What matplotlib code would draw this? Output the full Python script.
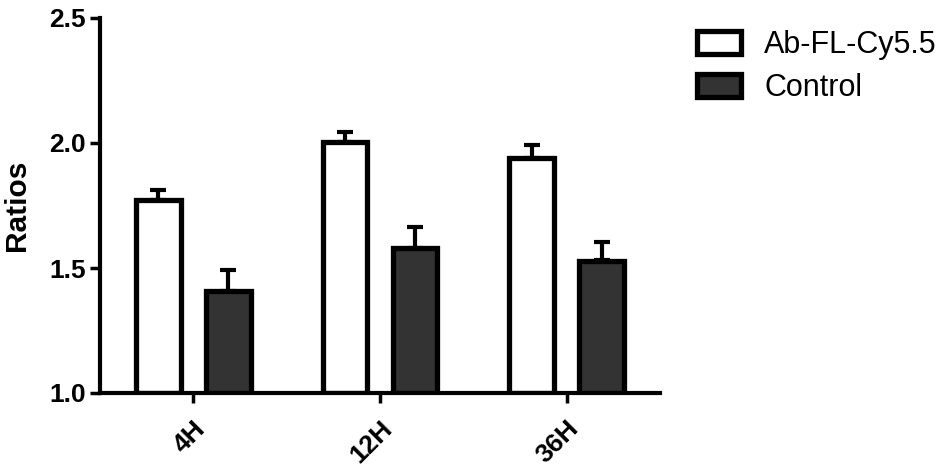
import numpy as np
import matplotlib
matplotlib.use('Agg')
import matplotlib.pyplot as plt

# Data (bar height and upper SEM end)
groups = ['4H', '12H', '36H']
ab_mean = [1.77, 2.005, 1.94]
ab_err = [0.04, 0.04, 0.05]
ctrl_mean = [1.41, 1.58, 1.53]
ctrl_err = [0.08, 0.085, 0.075]

plt.rcParams['font.family'] = ['Liberation Sans', 'DejaVu Sans']

fig = plt.figure(figsize=(9.45, 4.73), dpi=100)
ax = fig.add_axes([100 / 945, 80 / 473, 560 / 945, 375 / 473])

x = np.arange(len(groups))
w = 0.24
off = 0.1875

bar_kw = dict(edgecolor='black', linewidth=3.8, zorder=2)
err_kw = dict(fmt='none', ecolor='black', elinewidth=3, capsize=6, capthick=3, zorder=1)

ax.bar(x - off, np.array(ab_mean) - 1, w, bottom=1, color='white', label='Ab-FL-Cy5.5', **bar_kw)
ax.bar(x + off, np.array(ctrl_mean) - 1, w, bottom=1, color='#333333', label='Control', **bar_kw)
ax.errorbar(x - off, ab_mean, yerr=[np.zeros(3), ab_err], **err_kw)
ax.errorbar(x + off, ctrl_mean, yerr=[np.zeros(3), ctrl_err], **err_kw)

ax.set_xlim(-0.5, 2.5)
ax.set_ylim(1.0, 2.5)
ax.set_yticks([1.0, 1.5, 2.0, 2.5])
ax.set_yticklabels(['1.0', '1.5', '2.0', '2.5'], fontsize=19, fontweight='bold')
ax.set_xticks(x)
ax.set_xticklabels(groups, fontsize=19, fontweight='bold', rotation=45,
                   ha='right', va='top', rotation_mode='anchor')
ax.set_ylabel('Ratios', fontsize=21.5, fontweight='bold', labelpad=13)

for s in ['top', 'right']:
    ax.spines[s].set_visible(False)
for s in ['left', 'bottom']:
    ax.spines[s].set_linewidth(3)
ax.tick_params(width=2.5, length=7, pad=3)
ax.tick_params(axis='x', pad=10)

fig.legend(loc='upper left', bbox_to_anchor=(697 / 945, 1 - 30 / 473), frameon=False,
           fontsize=22, handlelength=1.45, handleheight=0.82, handletextpad=0.75,
           labelspacing=0.43, borderpad=0, borderaxespad=0)

fig.savefig('out.png', dpi=100)
